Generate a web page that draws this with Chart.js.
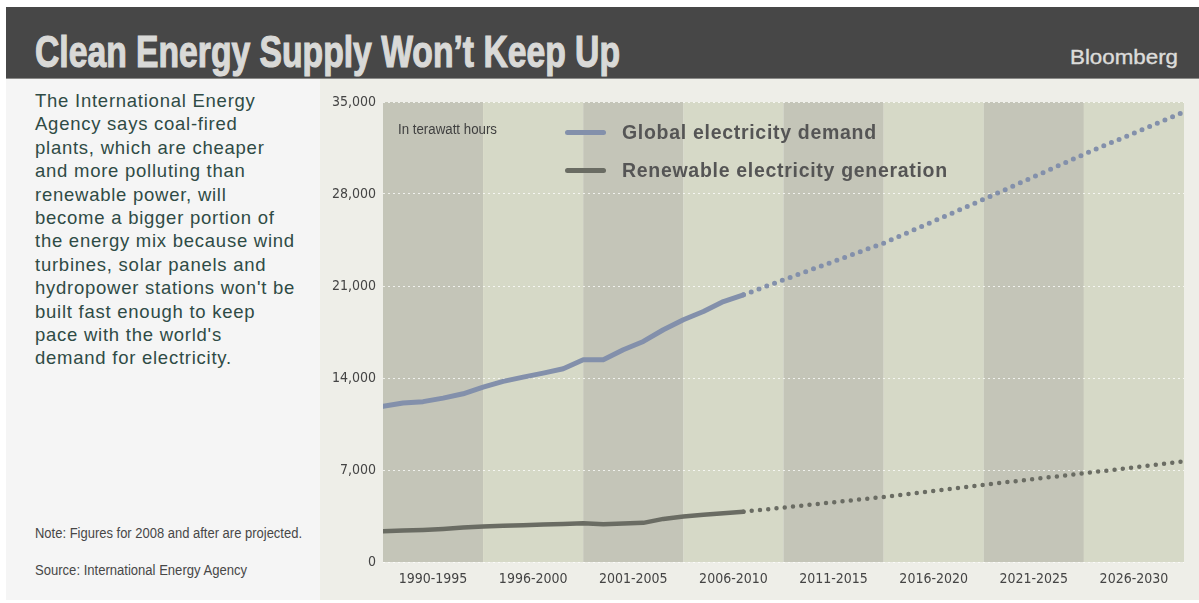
<!DOCTYPE html>
<html>
<head>
<meta charset="utf-8">
<script src="https://cdn.jsdelivr.net/npm/chart.js@4"></script>
<style>
  html, body { margin: 0; padding: 0; background: #ffffff; }
  body { width: 1199px; height: 603px; position: relative; overflow: hidden; }
  #bar { position: absolute; left: 6px; top: 7px; width: 1193px; height: 71px; background: #474747; border-bottom: 1px solid #8a8a88; }
  #title { position: absolute; left: 35px; top: 28px; font-family: 'Liberation Sans', Arial, sans-serif; font-weight: bold; font-size: 44px; line-height: 48px; color: #d9d9d7; -webkit-text-stroke: 1.2px #d9d9d7; white-space: nowrap; transform-origin: 0 0; }
  #brand { position: absolute; left: 1070px; top: 45px; font-family: 'Liberation Sans', Arial, sans-serif; font-size: 21px; line-height: 24px; color: #dcdcda; -webkit-text-stroke: 0.4px #dcdcda; white-space: nowrap; transform-origin: 0 0; }
  #left { position: absolute; left: 6px; top: 79px; width: 314px; height: 521px; background: #f5f5f5; }
  #desc { position: absolute; left: 35px; top: 89px; font-family: 'Liberation Sans', Arial, sans-serif; font-size: 18.5px; line-height: 23.4px; letter-spacing: 0.75px; color: #2f4b45; white-space: nowrap; }
  .note { position: absolute; left: 35px; font-family: 'Liberation Sans', Arial, sans-serif; font-size: 14px; line-height: 16px; color: #474747; white-space: nowrap; transform-origin: 0 0; }
  #chartwrap { position: absolute; left: 320px; top: 79px; width: 879px; height: 521px; background: #eeeee8; }
  #chartbox { position: absolute; left: 320px; top: 80px; width: 879px; height: 523px; }
  #unit { position: absolute; left: 398px; top: 121px; font-family: 'Liberation Sans', Arial, sans-serif; font-size: 14px; line-height: 16px; color: #3f3f3f; white-space: nowrap; transform-origin: 0 0; }
  .leg { position: absolute; left: 565px; height: 0; }
  .leg .sw { position: absolute; left: 0; top: -2.5px; width: 41px; height: 5px; border-radius: 3px; }
  .leg .tx { position: absolute; left: 57px; top: -12px; font-family: 'Liberation Sans', Arial, sans-serif; font-weight: bold; font-size: 19.5px; line-height: 24px; letter-spacing: 0.7px; color: #555555; white-space: nowrap; }
</style>
</head>
<body>
<div id="bar"></div>
<div id="title">Clean Energy Supply Won’t Keep Up</div>
<div id="brand">Bloomberg</div>
<div id="left"></div>
<div id="desc">The International Energy<br>Agency says coal-fired<br>plants, which are cheaper<br>and more polluting than<br>renewable power, will<br>become a bigger portion of<br>the energy mix because wind<br>turbines, solar panels and<br>hydropower stations won't be<br>built fast enough to keep<br>pace with the world's<br>demand for electricity.</div>
<div class="note" id="note1" style="top:525px">Note: Figures for 2008 and after are projected.</div>
<div class="note" id="note2" style="top:562px">Source: International Energy Agency</div>
<div id="chartwrap"></div>
<div id="chartbox"><canvas id="c" width="879" height="523"></canvas></div>
<div id="unit">In terawatt hours</div>
<div class="leg" style="top:132px"><div class="sw" style="background:#8390ab"></div><div class="tx">Global electricity demand</div></div>
<div class="leg" style="top:170px"><div class="sw" style="background:#6a6c63"></div><div class="tx">Renewable electricity generation</div></div>
<script>
// ---- data ----
const periodLabels = ['1990-1995','1996-2000','2001-2005','2006-2010','2011-2015','2016-2020','2021-2025','2026-2030'];
const periodStarts = [1990, 1995, 2000, 2005, 2010, 2015, 2020, 2025];
const yTicks = [0, 7000, 14000, 21000, 28000, 35000];

const demandYears  = [1990,1991,1992,1993,1994,1995,1996,1997,1998,1999,2000,2001,2002,2003,2004,2005,2006,2007,2008,2010,2015,2020,2025,2030];
const demandValues = [11840,12100,12200,12470,12800,13300,13740,14070,14370,14700,15390,15390,16150,16780,17670,18430,19060,19820,20330,21470,24260,27600,31020,34250];

const renewYears  = [1990,1991,1992,1993,1994,1995,1996,1997,1998,1999,2000,2001,2002,2003,2004,2005,2006,2007,2008,2010,2015,2020,2025,2030];
const renewValues = [2340,2390,2440,2520,2620,2700,2750,2800,2850,2900,2950,2870,2920,2980,3280,3460,3590,3710,3830,4140,4950,5870,6750,7650];

const projectedFrom = 2008;
const demandColor = '#8390ab';
const renewColor = '#6a6c63';

// ---- fit condensed texts to their widths ----
function fitWidth(id, w) {
  const el = document.getElementById(id);
  const cur = el.getBoundingClientRect().width;
  el.style.transform = 'scaleX(' + (w / cur) + ')';
}
fitWidth('title', 585);
fitWidth('note1', 267);
fitWidth('note2', 212);
fitWidth('unit', 99);
fitWidth('brand', 108);

const bandPlugin = {
  id: 'bands',
  beforeDraw(chart) {
    const { ctx, chartArea, scales } = chart;
    const xs = scales.x;
    ctx.save();
    periodStarts.forEach((s, i) => {
      const x0 = xs.getPixelForValue(s);
      const x1 = xs.getPixelForValue(s + 5);
      ctx.fillStyle = i % 2 === 0 ? '#c4c5b8' : '#d6d9c7';
      ctx.fillRect(x0, chartArea.top, x1 - x0, chartArea.bottom - chartArea.top);
    });
    ctx.restore();
  }
};

const projDash = ctx => (ctx.p0.parsed.x >= projectedFrom ? [0, 8.3] : undefined);
const tickFont = { family: "'DejaVu Sans Condensed', 'Liberation Sans', sans-serif", size: 14 };

new Chart(document.getElementById('c'), {
  type: 'line',
  data: {
    datasets: [
      {
        label: 'Global electricity demand',
        data: demandYears.map((x, i) => ({ x, y: demandValues[i] })),
        borderColor: demandColor,
        borderWidth: 5,
        borderCapStyle: 'round',
        borderJoinStyle: 'round',
        pointRadius: 0,
        tension: 0,
        segment: { borderDash: projDash }
      },
      {
        label: 'Renewable electricity generation',
        data: renewYears.map((x, i) => ({ x, y: renewValues[i] })),
        borderColor: renewColor,
        borderWidth: 4.5,
        borderCapStyle: 'round',
        borderJoinStyle: 'round',
        pointRadius: 0,
        tension: 0,
        segment: { borderDash: projDash }
      }
    ]
  },
  options: {
    responsive: false,
    animation: false,
    events: [],
    layout: { padding: { left: 0, right: 15, top: 22, bottom: 0 } },
    plugins: { legend: { display: false }, tooltip: { enabled: false } },
    scales: {
      x: {
        type: 'linear',
        min: 1990,
        max: 2030,
        afterBuildTicks: axis => { axis.ticks = periodStarts.map(s => ({ value: s + 2.5 })); },
        afterFit: axis => { axis.height = 41; },
        grid: { display: false, drawTicks: false },
        border: { display: false },
        ticks: {
          autoSkip: false,
          maxRotation: 0,
          padding: 9,
          color: '#444444',
          font: tickFont,
          callback: (v, i) => periodLabels[i]
        }
      },
      y: {
        min: 0,
        max: 35000,
        afterBuildTicks: axis => { axis.ticks = yTicks.map(v => ({ value: v })); },
        afterFit: axis => { axis.width = 63; },
        grid: { color: 'rgba(255,255,255,0.75)', lineWidth: 1, drawTicks: false },
        border: { display: false, dash: [2, 3] },
        ticks: {
          padding: 7,
          color: '#444444',
          font: tickFont,
          callback: v => v.toLocaleString('en-US')
        }
      }
    }
  },
  plugins: [bandPlugin]
});
</script>
</body>
</html>
